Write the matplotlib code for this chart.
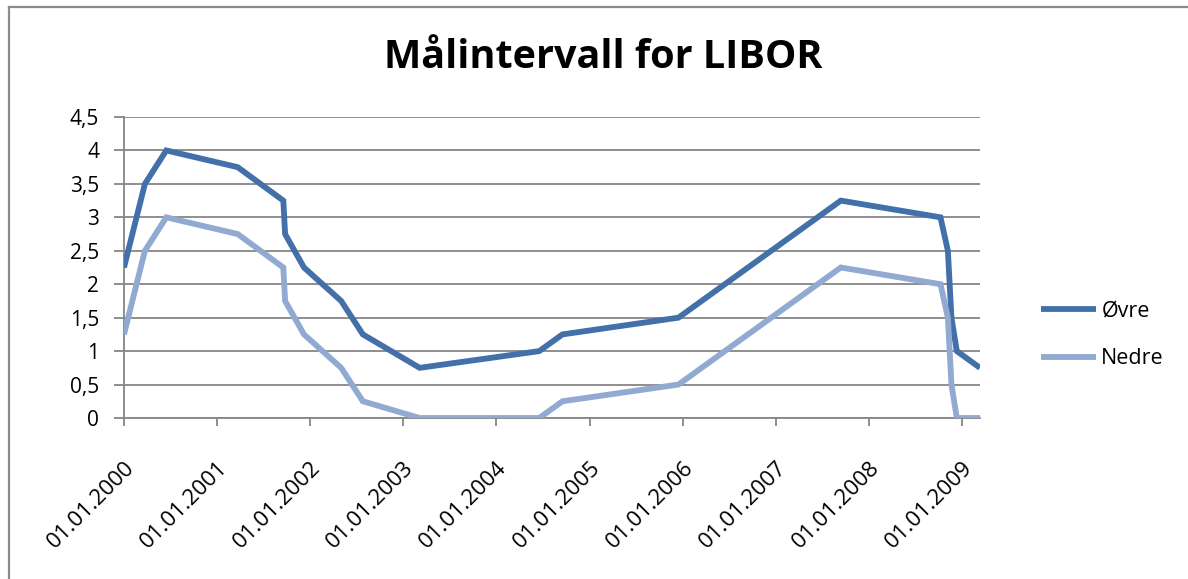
"""Målintervall for LIBOR."""

import matplotlib
matplotlib.use('Agg')
import matplotlib.pyplot as plt
import matplotlib.dates as mdates
from matplotlib.lines import Line2D
from matplotlib.ticker import FuncFormatter, MultipleLocator
import pandas as pd

plt.rcParams['font.family'] = ['Open Sans', 'DejaVu Sans']

# %% Data

dates = [
    '2000-01-01', '2000-03-23', '2000-06-15', '2001-03-22',
    '2001-09-17', '2001-09-24', '2001-12-07', '2002-05-02',
    '2002-07-26', '2003-03-06', '2004-06-17', '2004-09-16',
    '2005-12-15', '2007-09-13', '2008-10-08', '2008-11-06',
    '2008-11-20', '2008-12-11', '2009-03-12'
    ]

ovre = [
    2.25, 3.5, 4.0, 3.75,
    3.25, 2.75, 2.25, 1.75,
    1.25, 0.75, 1.0, 1.25,
    1.5, 3.25, 3.0, 2.5,
    1.5, 1.0, 0.75
    ]

nedre = [
    1.25, 2.5, 3.0, 2.75,
    2.25, 1.75, 1.25, 0.75,
    0.25, 0.0, 0.0, 0.25,
    0.5, 2.25, 2.0, 1.5,
    0.5, 0.0, 0.0
    ]

series_names = ['Øvre', 'Nedre']
title = 'Målintervall for LIBOR'

df = pd.DataFrame({'Øvre': ovre, 'Nedre': nedre}, index=pd.to_datetime(dates))

# %% Plot

W, H = 1188, 579
fig = plt.figure(figsize=(W / 100, H / 100), dpi=100)
ax = fig.add_axes([124 / W, 1 - 418 / H, (980 - 124) / W, (418 - 117) / H])

grey = '#868686'
colors = {'Øvre': '#4470a9', 'Nedre': '#91aad2'}

for name in series_names:
    ax.plot(df.index, df[name], color=colors[name], lw=4.2,
            solid_joinstyle='miter', solid_capstyle='butt', label=name,
            zorder=3)

ax.set_xlim(df.index[0], df.index[-1])
ax.set_ylim(0, 4.5)

# Y axis
ax.yaxis.set_major_locator(MultipleLocator(0.5))
ax.yaxis.set_major_formatter(
    FuncFormatter(lambda v, p: ('%g' % v).replace('.', ','))
    )
ax.grid(axis='y', color=grey, lw=1.3, zorder=1)

# X axis
ax.xaxis.set_major_locator(mdates.YearLocator(1, month=1, day=1))
ax.xaxis.set_major_formatter(mdates.DateFormatter('%d.%m.%Y'))
for lab in ax.get_xticklabels():
    lab.set_rotation(45)
    lab.set_ha('right')
    lab.set_va('top')
    lab.set_rotation_mode('anchor')

ax.tick_params(axis='both', width=1.3, color=grey, colors=grey,
               labelcolor='black')
ax.tick_params(axis='x', length=6, pad=22, labelsize=16)
ax.tick_params(axis='y', length=7, pad=11, labelsize=15)

for side in ['top', 'right']:
    ax.spines[side].set_visible(False)
for side in ['left', 'bottom']:
    ax.spines[side].set_color(grey)
    ax.spines[side].set_linewidth(1.3)

# Title
fig.text(603 / W, 1 - 58 / H, title, ha='center', va='center',
         fontsize=28.5, fontweight='bold')

# Legend
fig.legend(loc='center left', bbox_to_anchor=(1041 / W, 1 - 335 / H),
           frameon=False, fontsize=15.5, handlelength=2.55,
           handletextpad=0.25, labelspacing=1.25, borderpad=0,
           borderaxespad=0)

# Chart frame (top and left edge)
fig.add_artist(Line2D([8.5 / W, 8.5 / W], [1 - 7 / H, 0], color='#8c8c8c',
                      lw=1.6, transform=fig.transFigure))
fig.add_artist(Line2D([8.5 / W, 1], [1 - 7 / H, 1 - 7 / H],
                      color='#8c8c8c', lw=1.6, transform=fig.transFigure))

plt.savefig('out.png', dpi=100)
